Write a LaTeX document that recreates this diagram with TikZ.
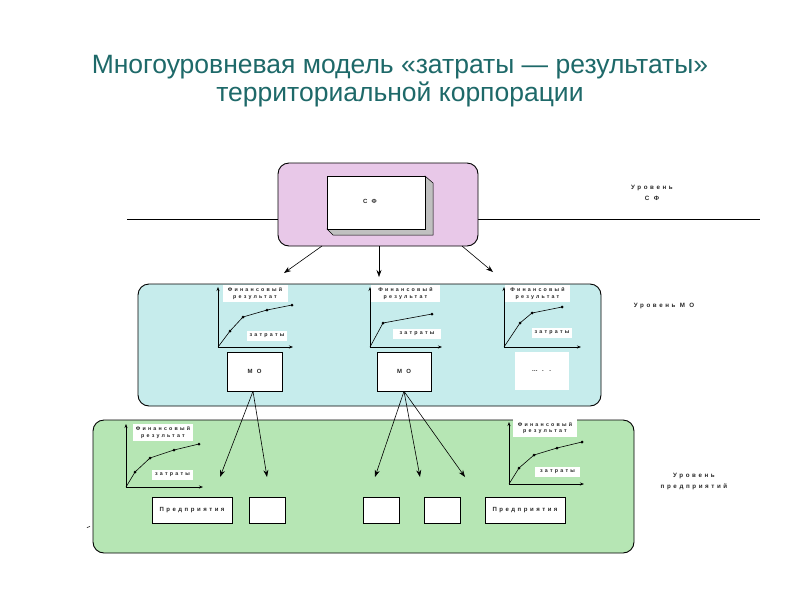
\documentclass[tikz,border=0pt]{standalone}
\usepackage{fontspec}
\setmainfont{Liberation Sans}
\newfontfamily\spf[LetterSpace=42]{Liberation Sans}
\usetikzlibrary{arrows.meta}
\definecolor{titlec}{RGB}{30,105,105}
\definecolor{pinkc}{RGB}{232,200,232}
\definecolor{cyanc}{RGB}{198,236,236}
\definecolor{greenc}{RGB}{182,230,180}
\definecolor{bevel}{RGB}{192,192,192}
\tikzset{
  panel/.style={draw=black, rounded corners=11pt, line width=0.9pt},
  tinyt/.style={font=\spf\bfseries\fontsize{5.3}{6.6}\selectfont, text=black!85},
  lvl/.style={font=\spf\bfseries\fontsize{6.2}{11}\selectfont, text=black!85, align=center},
  wlabel/.style={tinyt, fill=white, inner sep=0pt, align=center},
  box/.style={draw=black, fill=white, line width=0.6pt, inner sep=0pt},
  axis/.style={line width=0.6pt, -{Stealth[length=4pt,width=3pt]}},
  curve/.style={line width=0.6pt},
  dot/.style={circle, fill=black, inner sep=0pt, minimum size=3pt},
  arr/.style={line width=0.6pt, -{Stealth[length=7pt,width=5pt]}},
}
\begin{document}
\begin{tikzpicture}[x=1pt,y=-1pt]
\useasboundingbox (0,0) rectangle (800,600);
\fill[white] (0,0) rectangle (800,600);
% title
\node[font=\fontsize{26.5}{27.5}\selectfont, text=titlec, align=center] (title) at (400,81)
  {Многоуровневая модель «затраты — результаты»\\территориальной корпорации};
% level line
\coordinate (lineL) at (127,219);
\coordinate (lineR) at (760,219);
\draw[line width=0.7pt] (lineL) -- (lineR);
% top panel
\node[panel, fill=pinkc, minimum width=200, minimum height=83] (sfp) at (378,204.5) {};
\fill[bevel, draw=black, line width=0.5pt] (327,229) -- (333,235) -- (433,235) -- (433,183) -- (425,176) -- (425,229) -- cycle;
\node[box, minimum width=98, minimum height=53] (sf) at (376,202.5) {};
\node[tinyt, font=\spf\bfseries\fontsize{6}{7}\selectfont] at (370,201) {С Ф};
\node[lvl] (lsf) at (652,193) {Уровень\\С Ф};
% arrows from top panel
\coordinate (t1) at (284,273);
\coordinate (t2) at (379,277);
\coordinate (t3) at (493,272);
\draw[arr] (322,246) -- (t1);
\draw[arr] (379,246) -- (t2);
\draw[arr] (462,246) -- (t3);
% MO panel
\node[panel, fill=cyanc, minimum width=463, minimum height=122] (mop) at (369.5,345) {};
\node[lvl] (lmo) at (664,306) {Уровень М О};
% enterprise panel
\node[panel, fill=greenc, minimum width=541, minimum height=133] (ep) at (363.5,486.5) {};
\node[lvl] (lep) at (694,482) {Уровень\\предприятий};
\draw[line width=0.6pt] (87,527.5) -- (90,526.5);

% ---- graph MO1
\draw[axis] (218,347) -- (218,287);
\draw[axis] (218,347) -- (293,347);
\node[wlabel, minimum width=65, minimum height=17] at (255,293.5) {Финансовый\\результат};
\node[wlabel, minimum width=40, minimum height=10] at (267,335.5) {затраты};
\draw[curve] (218,347) -- (230,331) -- (243,317) -- (267,310) -- (292,305);
\foreach \p in {(230,331),(243,317),(267,310),(292,305)} \node[dot] at \p {};
% ---- graph MO2
\draw[axis] (370,347) -- (370,287);
\draw[axis] (370,347) -- (442,347);
\node[wlabel, minimum width=69, minimum height=17] at (405.5,293.5) {Финансовый\\результат};
\node[wlabel, minimum width=48, minimum height=10] at (417,334) {затраты};
\draw[curve] (370,347) -- (383,323) -- (432,314);
\foreach \p in {(383,323),(432,314)} \node[dot] at \p {};
% ---- graph MO3
\draw[axis] (504,347) -- (504,287);
\draw[axis] (504,347) -- (581,347);
\node[wlabel, minimum width=65, minimum height=17] at (537.5,293.5) {Финансовый\\результат};
\node[wlabel, minimum width=40, minimum height=10] at (552,333) {затраты};
\draw[curve] (504,347) -- (520,323) -- (532,313) -- (562,307);
\foreach \p in {(520,323),(532,313),(562,307)} \node[dot] at \p {};
% MO boxes
\node[box, minimum width=55, minimum height=39, tinyt, font=\spf\bfseries\fontsize{6}{7}\selectfont] (mo1) at (254.5,371.5) {М О};
\node[box, minimum width=54, minimum height=39, tinyt, font=\spf\bfseries\fontsize{6}{7}\selectfont] (mo2) at (404,371.5) {М О};
\node[fill=white, inner sep=0pt, minimum width=54, minimum height=38, tinyt, font=\spf\bfseries\fontsize{6}{7}\selectfont] (mo3) at (541.5,371) {… . .};

% ---- graph E1
\draw[axis] (126,487) -- (126,424);
\draw[axis] (126,487) -- (203,487);
\node[wlabel, minimum width=60, minimum height=17] at (163,432.5) {Финансовый\\результат};
\node[wlabel, minimum width=41, minimum height=10] at (172.5,474.5) {затраты};
\draw[curve] (126,487) -- (135,472) -- (150,458) -- (174,450) -- (199,444);
\foreach \p in {(135,472),(150,458),(174,450),(199,444)} \node[dot] at \p {};
% ---- graph E2
\draw[axis] (509,484) -- (509,422);
\draw[axis] (509,484) -- (584,484);
\node[wlabel, minimum width=64, minimum height=18] at (545,428) {Финансовый\\результат};
\node[wlabel, minimum width=45, minimum height=10] at (557.5,472) {затраты};
\draw[curve] (509,484) -- (519,468) -- (534,455) -- (557,448) -- (582,442);
\foreach \p in {(519,468),(534,455),(557,448),(582,442)} \node[dot] at \p {};

% enterprise boxes
\node[box, minimum width=80, minimum height=26, tinyt, font=\spf\bfseries\fontsize{6}{7}\selectfont] (e1) at (192,510) {Предприятия};
\node[box, minimum width=36, minimum height=26] (e2) at (267,510) {};
\node[box, minimum width=36, minimum height=26] (e3) at (381,510) {};
\node[box, minimum width=36, minimum height=26] (e4) at (442,510) {};
\node[box, minimum width=80, minimum height=26, tinyt, font=\spf\bfseries\fontsize{6}{7}\selectfont] (e5) at (525,510) {Предприятия};

% arrows MO -> enterprises
\coordinate (a1) at (220,477);
\coordinate (a2) at (267,477);
\coordinate (a3) at (375,477);
\coordinate (a4) at (420,477);
\coordinate (a5) at (465,477);
\draw[arr] ([xshift=-1.5pt]mo1.south) -- (a1);
\draw[arr] ([xshift=-1.5pt]mo1.south) -- (a2);
\draw[arr] (mo2.south) -- (a3);
\draw[arr] (mo2.south) -- (a4);
\draw[arr] (mo2.south) -- (a5);
\end{tikzpicture}
\end{document}
